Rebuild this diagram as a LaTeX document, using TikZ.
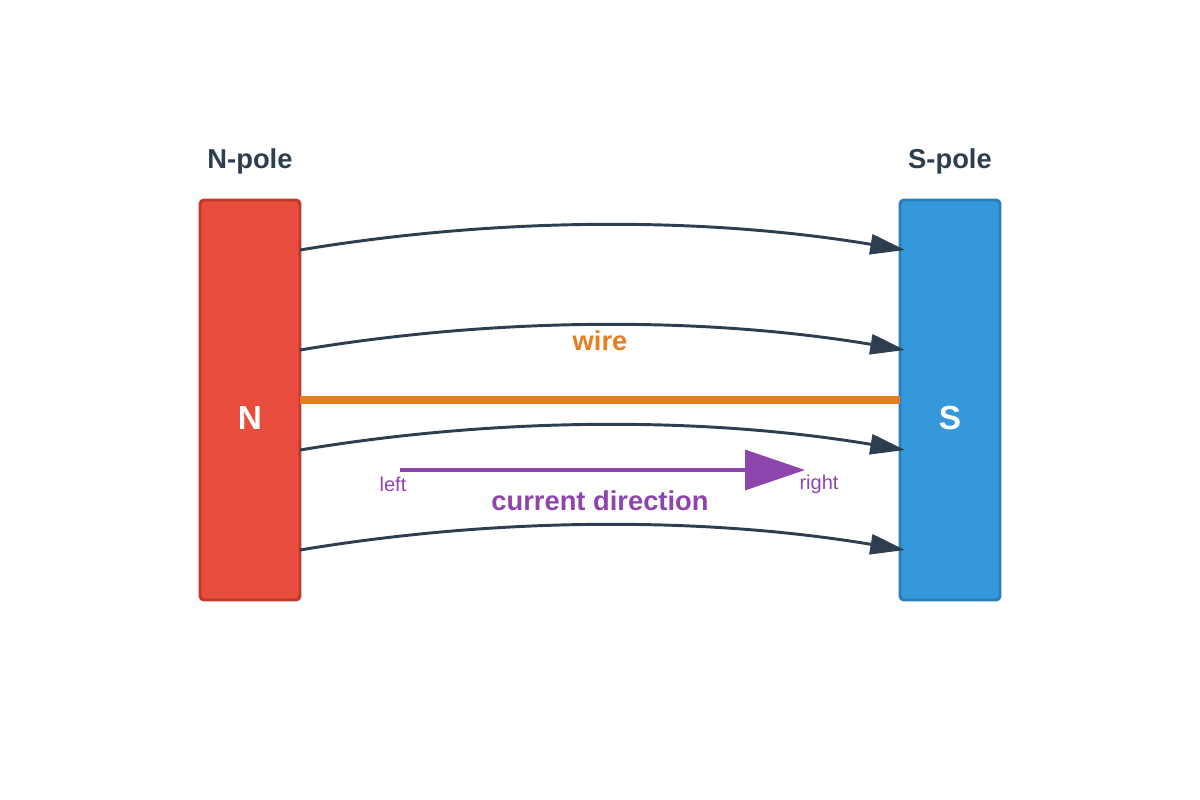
\documentclass[tikz,border=0pt]{standalone}
\usepackage{fontspec}
\setmainfont{Liberation Sans}
\usetikzlibrary{arrows.meta,positioning}
\definecolor{npol}{HTML}{E74C3C}
\definecolor{npoldraw}{HTML}{C0392B}
\definecolor{spol}{HTML}{3498DB}
\definecolor{spoldraw}{HTML}{2980B9}
\definecolor{dunkel}{HTML}{2C3E50}
\definecolor{draht}{HTML}{E67E22}
\definecolor{strom}{HTML}{8E44AD}
\begin{document}
\begin{tikzpicture}[x=0.75pt,y=-0.75pt]
\tikzstyle{magnet}=[rectangle,rounded corners=3pt,line width=2.2pt,minimum width=75pt,minimum height=300pt,inner sep=0pt]
\tikzstyle{pol_label}=[font=\fontsize{20.5}{24}\selectfont\bfseries,text=dunkel]
\tikzstyle{pol_letter}=[font=\fontsize{25}{30}\selectfont\bfseries,text=white]
\tikzstyle{feld}=[-{Triangle[length=26pt,width=15pt]},line width=2.2pt,draw=dunkel]
\tikzstyle{klein}=[font=\fontsize{15}{18}\selectfont,text=strom]
\useasboundingbox (0,0) rectangle (1200,800);

\node[magnet,fill=npol,draw=npoldraw] (nmag) at (250,400) {};
\node[magnet,fill=spol,draw=spoldraw] (smag) at (950,400) {};
\node[pol_label] (nlabel) at (250,161) {N-pole};
\node[pol_label] (slabel) at (950,161) {S-pole};
\node[pol_letter] (nletter) at (250,418) {N};
\node[pol_letter] (sletter) at (950,418) {S};

% field lines
\foreach \y in {250,350,450,550}{
  \coordinate (fa\y) at (300,\y);
  \coordinate (fb\y) at (905,\y);
  \draw[feld] (fa\y) .. controls (500,\y-33.3) and (705,\y-33.3) .. (fb\y);
}

% wire
\coordinate (wa) at (300,400);
\coordinate (wb) at (900,400);
\draw[draht,line width=6pt] (wa) -- (wb);
\node[pol_label,text=draht] (wirelabel) at (600,341) {wire};

% current
\coordinate (ca) at (400,470);
\coordinate (cb) at (805,470);
\draw[strom,line width=2.5pt,-{Triangle[length=45pt,width=30pt]}] (ca) -- (cb);
\node[klein] (leftlabel) at (393,484) {left};
\node[klein] (rightlabel) at (819,484) {right};
\node[pol_label,text=strom] (currlabel) at (600,501) {current direction};
\end{tikzpicture}
\end{document}
